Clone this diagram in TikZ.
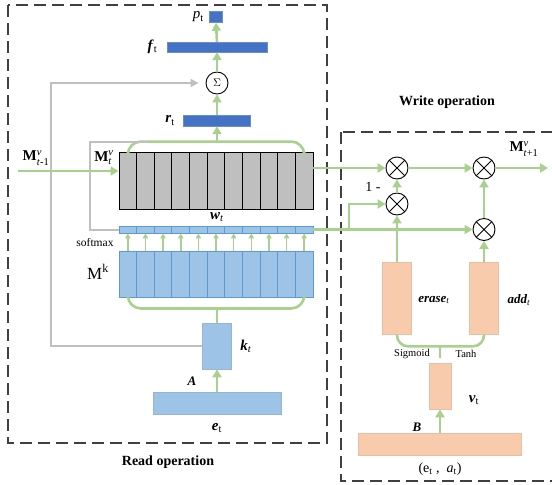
\documentclass[tikz,border=0pt]{standalone}
\usepackage{amsmath}
\usepackage{fontspec}
\setmainfont{Liberation Serif}
\usetikzlibrary{arrows.meta, positioning}

\definecolor{darkblue}{HTML}{4472C4}
\definecolor{lightblue}{HTML}{9DC3E6}
\definecolor{keyborder}{HTML}{5B9BD5}
\definecolor{lgreen}{HTML}{A9D18E}
\definecolor{lgray}{HTML}{BFBFBF}
\definecolor{peach}{HTML}{F8CBAD}

% super- and subscript stacked on a memory label
\newcommand{\supsub}[2]{$^{\textit{#1}}_{\textit{#2}}$}

\begin{document}
\begin{tikzpicture}[x=1pt, y=-1pt, font=\fontsize{13}{15}\selectfont]

        % Setup the styles
        \tikzset{bar/.style={rectangle, inner sep=0pt, fill=darkblue, draw=darkblue!80!white, line width=0.4pt},
                 keybox/.style={rectangle, inner sep=0pt, fill=lightblue, draw=lightblue!80!gray, line width=0.6pt},
                 peachbox/.style={rectangle, inner sep=0pt, fill=peach, draw=peach!85!gray, line width=0.6pt},
                 memcell/.style={rectangle, inner sep=0pt, fill=lgray, draw=black, line width=0.9pt,
                                 minimum width=17.64pt, minimum height=57pt},
                 keycell/.style={rectangle, inner sep=0pt, fill=lightblue, draw=keyborder, line width=0.9pt,
                                 minimum width=17.64pt, minimum height=46pt},
                 wcell/.style={rectangle, inner sep=0pt, fill=lightblue, draw=keyborder, line width=0.9pt,
                               minimum width=17.64pt, minimum height=7pt},
                 sumnode/.style={circle, draw, line width=0.9pt, minimum size=22pt, inner sep=0pt,
                                 font=\fontsize{11}{12}\selectfont},
                 mult/.style={circle, draw, line width=0.9pt, minimum size=22pt, inner sep=0pt,
                              path picture={\draw[line width=0.9pt]
                                  (path picture bounding box.north west) -- (path picture bounding box.south east)
                                  (path picture bounding box.north east) -- (path picture bounding box.south west);}},
                 greenline/.style={draw=lgreen, line width=2.6pt},
                 greenarrow/.style={greenline, -{Triangle[width=9pt,length=8pt]}},
                 smallarrow/.style={draw=lgreen, line width=1.6pt, -{Triangle[width=5.5pt,length=5pt]}},
                 grayline/.style={draw=lgray, line width=2pt},
                 grayarrow/.style={grayline, -{Triangle[width=8pt,length=8pt]}},
                 opbox/.style={draw=black!75, line width=1.1pt, dash pattern=on 12pt off 6pt},
                 title/.style={font=\fontsize{14}{16}\selectfont\bfseries},
                 small/.style={font=\fontsize{10.5}{12}\selectfont}}

        \useasboundingbox (0,0) rectangle (552,485);

        % The two operation frames
        \draw[opbox] (8,5) rectangle (327,443);
        \draw[opbox] (341,132) rectangle (566,481);
        \node[title] (readop)  at (168,462) {Read operation};
        \node[title] (writeop) at (447,102) {Write operation};

        % Read head: output layers
        \node[bar, minimum width=13pt, minimum height=11pt] (pt) at (216,17) {};
        \node[bar, minimum width=100pt, minimum height=10pt] (ft) at (217,47) {};
        \node[sumnode] (sig) at (217,83) {$\Sigma$};
        \node[bar, minimum width=67pt, minimum height=11pt] (rt) at (217,120.5) {};
        \node[font=\fontsize{15}{17}\selectfont, left=2pt of pt] (ptlabel) {\textit{p}\textsubscript{t}};
        \node[font=\fontsize{15}{17}\selectfont, left=6pt of ft] (ftlabel) {\textbf{\textit{f}}\textsubscript{t}};
        \node[font=\fontsize{15}{17}\selectfont, left=5pt of rt] (rtlabel) {\textbf{\textit{r}}\textsubscript{t}};

        % Value memory, key memory and weights
        \foreach \i in {1,...,11} {
            \pgfmathsetmacro{\cx}{119 + (\i-0.5)*17.64}
            \node[memcell] (mv\i) at (\cx,180.5) {};
            \node[keycell] (mk\i) at (\cx,274) {};
            \node[wcell]   (wt\i) at (\cx,229.5) {};
            \draw[smallarrow] (mk\i.north) -- (wt\i.south);
        }
        \node[font=\fontsize{15}{17}\selectfont] (mvlabel) at (104,158) {\textbf{M}\supsub{v}{t}};
        \node[font=\fontsize{15}{17}\selectfont] (mvinlabel) at (36,158) {\textbf{M}\supsub{v}{t\textup{-1}}};
        \node[font=\fontsize{17}{19}\selectfont] (mklabel) at (98,272) {M\textsuperscript{k}};
        \node[font=\fontsize{11.5}{13}\selectfont] (softmax) at (95,243) {softmax};
        \node[font=\fontsize{15}{17}\selectfont] (wtlabel) at (217,217) {\textbf{\textit{w}}\textsubscript{\textit{t}}};

        % Key and input
        \node[keybox, minimum width=29pt, minimum height=46pt] (kt) at (217,346) {};
        \node[keybox, minimum width=128pt, minimum height=22pt] (et) at (217,403) {};
        \node[font=\fontsize{15}{17}\selectfont, right=5pt of kt] (ktlabel) {\textbf{\textit{k}}\textsubscript{\textit{t}}};
        \node[font=\fontsize{15}{17}\selectfont] (etlabel) at (217,428) {\textbf{\textit{e}}\textsubscript{t}};
        \node[font=\fontsize{13}{15}\selectfont] (alabel) at (192,381) {\textbf{\textit{A}}};

        % Connect the read head
        \coordinate (mtop) at (217,142);
        \coordinate (mbot) at (217,308);
        \coordinate (min)  at (18,171);
        \coordinate (gtop) at (148,142);
        \draw[greenline, rounded corners=13pt] (mv1.north) -- ++(0,-10) -| (mv11.north);
        \draw[greenline, rounded corners=13pt] (mk1.south) -- ++(0,11) -| (mk11.south);
        \draw[grayline] (wt1.west) -| (90,142) -- (gtop);
        \draw[grayarrow, shorten >=7pt] (kt.west) -| (51,83) -- (sig.west);
        \draw[greenarrow] (min) -- (min -| mv1.west);
        \draw[greenarrow] (mtop) -- (rt.south);
        \draw[greenarrow] (rt.north) -- (sig.south);
        \draw[greenarrow] (sig.north) -- (ft.south);
        \draw[greenarrow] (ft.north) -- (pt.south);
        \draw[greenline] (mbot) -- (kt.north);
        \draw[greenarrow] (et.north) -- (kt.south);

        % Write head
        \node[mult] (ox1) at (397,168) {};
        \node[mult] (ox2) at (397,204) {};
        \node[mult] (ox3) at (484,168) {};
        \node[mult] (ox4) at (484,229.5) {};
        \node[peachbox, minimum width=29pt, minimum height=72pt] (erase) at (397,298) {};
        \node[peachbox, minimum width=29pt, minimum height=72pt] (add) at (484,298) {};
        \node[peachbox, minimum width=22pt, minimum height=46pt] (vt) at (440,386) {};
        \node[peachbox, minimum width=163pt, minimum height=22pt] (ea) at (440,444) {};
        \node[font=\fontsize{14}{16}\selectfont] (oneminus) at (373,187) {1 -};
        \node[font=\fontsize{15}{17}\selectfont] (mnext) at (524,149) {\textbf{M}\supsub{v}{t\textup{+1}}};
        \node[font=\fontsize{13}{15}\selectfont] (eraselabel) at (434,300) {\textbf{\textit{erase}}\textsubscript{\textit{t}}};
        \node[font=\fontsize{13}{15}\selectfont] (addlabel) at (519,300) {\textbf{\textit{add}}\textsubscript{\textit{t}}};
        \node[small] (sigmoid) at (412,354) {Sigmoid};
        \node[small] (tanh) at (466,354) {Tanh};
        \node[font=\fontsize{15}{17}\selectfont] (vtlabel) at (474,400) {\textbf{\textit{v}}\textsubscript{t}};
        \node[font=\fontsize{13}{15}\selectfont] (blabel) at (417,427) {\textbf{\textit{B}}};
        \node[font=\fontsize{14}{16}\selectfont] (ealabel) at (440,469) {(e\textsubscript{t} ,\ \ \textit{a}\textsubscript{t})};

        % Connect the write head
        \coordinate (mout) at (548,168);
        \coordinate (br)   at (349,229.5);
        \coordinate (wmid) at (440,346);
        \draw[greenarrow] (ox1 -| mv11.east) -- (ox1);
        \draw[greenarrow] (ox1) -- (ox3);
        \draw[greenarrow] (ox3) -- (mout);
        \draw[greenarrow] (ox2) -- (ox1);
        \draw[greenarrow] (wt11.east) -- (ox4);
        \draw[greenarrow] (br) |- (ox2);
        \draw[greenarrow] (erase.north) -- (ox2.south);
        \draw[greenarrow] (add.north) -- (ox4.south);
        \draw[greenarrow] (ox4) -- (ox3);
        \draw[greenline, rounded corners=11pt] (erase.south) -- ++(0,12) -| (add.south);
        \draw[greenline, shorten >=5pt] (wmid) -- (vt.north);
        \draw[greenarrow] (ea.north) -- (vt.south);
    \end{tikzpicture}
\end{document}
